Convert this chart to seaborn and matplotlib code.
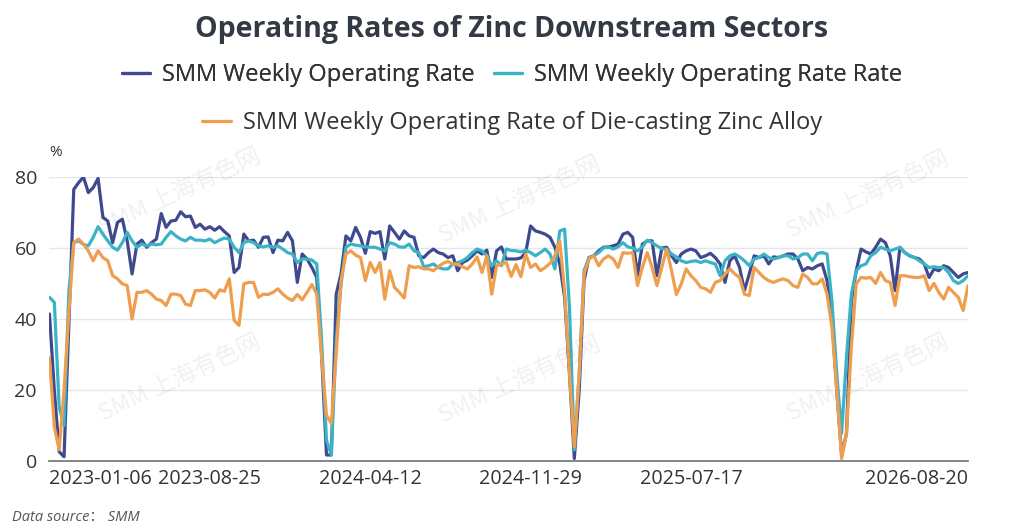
import numpy as np
import pandas as pd
import matplotlib
matplotlib.use("Agg")
import matplotlib.pyplot as plt
import seaborn as sns
from matplotlib.lines import Line2D

# ---------------- data ----------------
series_names = [
    "SMM Weekly Operating Rate",
    "SMM Weekly Operating Rate Rate",
    "SMM Weekly Operating Rate of Die-casting Zinc Alloy",
]

weekly_rate = [
    41.4, 20, 2.6, 1.2, 38.6, 76.5, 78.4, 80, 75.6, 77,
    79.6, 68.6, 67.6, 61.5, 67.2, 68.1, 62, 52.7, 61.1, 62.2,
    60.2, 61.5, 62.5, 69.7, 65.8, 67.6, 67.8, 70.2, 68.8, 69,
    65.8, 66.7, 65.3, 66, 65, 66, 64.6, 63.4, 53.1, 54.5,
    63.9, 62, 62.2, 60.2, 63, 63.1, 58.7, 62.2, 62, 64.4,
    62, 50.3, 58.3, 56.9, 54.5, 51.7, 30, 1.7, 1.7, 47,
    52.7, 63.4, 62, 65.8, 63, 58.5, 64.6, 64.1, 64.6, 56.9,
    66.2, 64.4, 62.5, 64.8, 63.4, 63, 57.8, 57.3, 58.7, 59.7,
    58.7, 58.3, 57.3, 57.8, 53.6, 55.9, 56.6, 57.8, 59.2, 58.3,
    59.4, 51.7, 59.2, 60.3, 56.9, 56.9, 56.9, 57.2, 58.7, 66.2,
    64.8, 64.4, 63.9, 63, 60.2, 55.5, 46.1, 24.6, 0.7, 19.9,
    50.8, 57.3, 57.8, 59.2, 60.2, 60.3, 60.6, 61.1, 63.9, 64.4,
    63, 52.2, 61.1, 62, 62, 52.2, 60, 60.2, 57.8, 55.9,
    58.3, 59.2, 59.7, 59.2, 57.3, 57.8, 58.5, 57.3, 55.5, 50.3,
    56.4, 57.8, 54.5, 48, 52.7, 57.8, 57.3, 57.8, 55.5, 57.5,
    57.3, 57.8, 58.3, 58.3, 56.9, 53.6, 54.5, 54.1, 55, 55.5,
    50.8, 40.5, 19.9, 1.7, 7.8, 45, 53.6, 59.7, 58.9, 58.3,
    60.2, 62.5, 61.5, 57.8, 48, 60.2, 58.7, 57.8, 57.3, 56.9,
    55.5, 51.7, 54.1, 53.6, 55, 54.5, 53.1, 51.7, 52.7, 53.1,
]

weekly_rate_rate = [
    46.1, 44.7, 15.2, 10, 48, 61.5, 62, 61, 60.6, 63,
    66, 63.9, 62, 60.2, 59.4, 61.5, 64.4, 62, 60.2, 61.1,
    60.6, 61.1, 60.9, 61.1, 63, 64.6, 63.4, 62.5, 62, 63,
    62.2, 62.2, 62, 62.5, 61.5, 62.2, 62.8, 62.5, 60.2, 58.7,
    61.5, 62, 61.5, 60.6, 60.3, 60.6, 60.2, 60.6, 59.7, 58.7,
    58.3, 55.9, 56.9, 56.9, 56.6, 55.5, 34, 5.9, 1.7, 34,
    49.9, 60.2, 61.1, 60.8, 60.6, 60.3, 60.2, 60.2, 59.7, 59.2,
    61.5, 61.1, 60.3, 60.2, 61.1, 59.2, 58.7, 54.7, 55, 55.5,
    54.5, 54.1, 54.1, 55.5, 55.9, 56.4, 57.3, 58.7, 59.7, 59.2,
    57.8, 55, 56.4, 55, 59.7, 59.3, 59.2, 58.9, 59.4, 58.7,
    57.8, 58.7, 59.7, 58.3, 54.1, 64.8, 65.3, 43.3, 3.1, 24.6,
    53.6, 57.3, 57.8, 58.7, 60, 60.3, 59.7, 60.3, 61.5, 60.3,
    60, 59.2, 60.3, 62.2, 61.5, 60.6, 59.8, 59.6, 58.3, 57.5,
    56.4, 55.9, 56.2, 56.4, 55.9, 56.4, 55.9, 55.5, 52.2, 56.4,
    57.8, 58.3, 57.5, 56.4, 55, 56.9, 57.3, 58.3, 57.3, 56.9,
    57.3, 57.8, 57.8, 56.9, 57.3, 58.3, 58.3, 56.4, 58.5, 58.7,
    58.3, 45.2, 24.6, 7.8, 29.3, 47, 53.6, 55, 55.5, 57.8,
    58.7, 60.2, 59.7, 59.2, 59.7, 60.2, 58.7, 57.8, 57.3, 56.4,
    55.5, 54.5, 54.7, 54.5, 54.5, 53.1, 50.8, 50, 50.8, 52.2,
]

diecasting_rate = [
    29, 9.6, 3.1, 20, 42, 61.5, 62.5, 61.1, 59.2, 56.4,
    59.2, 57.3, 56.4, 52.2, 51.3, 49.9, 49.4, 40, 47.5, 47.5,
    48, 47, 45.6, 45.2, 43.8, 47, 47, 46.6, 44.2, 43.8,
    48, 48, 48.2, 47.5, 45.9, 48.2, 47.8, 51.3, 39.6, 38.2,
    49.9, 50.3, 50.3, 46.1, 47, 46.9, 47.5, 48.5, 47, 45.9,
    45.2, 46.9, 45.4, 47.5, 49.7, 47, 29.3, 12.9, 10.6, 30.2,
    50.8, 58.3, 59.2, 58, 57.3, 50.8, 55.9, 53.1, 55.9, 45.6,
    53.6, 48.9, 47.5, 45.9, 55, 54.5, 54.7, 54.1, 54.1, 53.6,
    54.7, 55.7, 56.2, 55.5, 55.3, 54.7, 54.1, 55.5, 57.5, 53.1,
    57.8, 47, 55, 55.5, 55.9, 52, 55.3, 51.9, 58.3, 54.5,
    55.5, 53.6, 54.5, 55.7, 57.8, 62, 48, 24.6, 4, 24.6,
    52.7, 56.9, 57.8, 55, 56.9, 57.8, 56.9, 54.5, 58.7, 58.5,
    58.7, 49.4, 54.5, 58.7, 54.5, 49.4, 54.5, 59.7, 53.6, 46.9,
    49.9, 54.1, 52.2, 50.8, 48.9, 48.5, 47.5, 50.3, 50.8, 52.7,
    54.1, 52.7, 51.7, 47, 46.6, 54.5, 53.1, 51.7, 50.8, 50.3,
    50.9, 51.3, 50.8, 49.4, 48.9, 52.7, 51.7, 49.9, 49.9, 51.3,
    47, 37.7, 19.9, 0.7, 7.8, 32.1, 49.9, 51.7, 51.5, 51.7,
    50, 53.1, 50.8, 50.3, 43.8, 52.2, 52.2, 51.9, 51.7, 51.7,
    52.2, 48, 50, 47.5, 45.6, 48.9, 47.5, 46.1, 42.4, 49.4,
]

tick_labels = ["2023-01-06", "2023-08-25", "2024-04-12",
               "2024-11-29", "2025-07-17", "2026-08-20"]
tick_positions = [0, 33, 66, 99, 132, 189]

y_ticks = [0, 20, 40, 60, 80]

# ---------------- styling ----------------
colors = ["#3F4A8E", "#3BB3C6", "#EF9E4E"]
text_color = "#333333"
font_main = ["Open Sans", "DejaVu Sans"]

sns.set_theme(style="white")
plt.rcParams["font.family"] = font_main

n = len(weekly_rate)
df = pd.DataFrame({
    "idx": np.tile(np.arange(n), 3),
    "value": weekly_rate + weekly_rate_rate + diecasting_rate,
    "series": np.repeat(series_names, n),
})

fig = plt.figure(figsize=(10.24, 5.28), dpi=100)
ax = fig.add_axes([0.0483, 0.1269, 0.8970, 0.5379])

sns.lineplot(data=df, x="idx", y="value", hue="series",
             hue_order=series_names, palette=colors,
             linewidth=2.3, legend=False, ax=ax, estimator=None)

ax.set_xlim(0, n - 1)
ax.set_ylim(0, 80)
ax.set_yticks(y_ticks)
ax.set_yticklabels([str(v) for v in y_ticks])
ax.set_xticks(tick_positions)
ax.set_xticklabels(tick_labels)
for i, lbl in enumerate(ax.get_xticklabels()):
    if i == 0:
        lbl.set_ha("left")
    elif i == len(tick_labels) - 1:
        lbl.set_ha("right")
ax.tick_params(axis="x", length=0, pad=6, labelsize=14.2, colors=text_color)
ax.tick_params(axis="y", length=0, pad=9, labelsize=14, colors=text_color)
ax.set_xlabel("")
ax.set_ylabel("")

ax.grid(axis="y", color="#E3E6EE", linewidth=1.0)
ax.grid(axis="x", visible=False)
for s in ["top", "right", "left"]:
    ax.spines[s].set_visible(False)
ax.spines["bottom"].set_color("#6E7079")
ax.spines["bottom"].set_linewidth(1.2)
ax.set_axisbelow(True)

# unit label
fig.text(56 / 1024, 1 - 153 / 528, "%", fontsize=11, color=text_color,
         ha="center", va="center")

# watermarks
wm_font = ["Noto Sans CJK SC", "DejaVu Sans"]
for (wx, wy) in [(180, 192), (520, 200), (868, 195),
                 (180, 378), (520, 380), (868, 378)]:
    fig.text(wx / 1024, 1 - wy / 528, "SMM 上海有色网", fontsize=17,
             color="#000000", alpha=0.06, rotation=25,
             ha="center", va="center", family=wm_font)

# title
fig.text(0.5, 1 - 30 / 528, "Operating Rates of Zinc Downstream Sectors",
         fontsize=20.5, fontweight="bold", color="#333A44",
         ha="center", va="center")

# legend
handles = [Line2D([0], [0], color=c, linewidth=2.3) for c in colors]
leg1 = fig.legend(handles[:2], series_names[:2], loc="center",
                  bbox_to_anchor=(512 / 1024, 1 - 75 / 528), ncol=2,
                  frameon=False, fontsize=17, handlelength=1.2,
                  handletextpad=0.5, columnspacing=0.8,
                  labelcolor=text_color)
leg2 = fig.legend(handles[2:], series_names[2:], loc="center",
                  bbox_to_anchor=(512 / 1024, 1 - 123 / 528), ncol=1,
                  frameon=False, fontsize=17, handlelength=1.2,
                  handletextpad=0.5, labelcolor=text_color)
fig.add_artist(leg1)

# data source
fig.text(12 / 1024, 1 - 517 / 528, "Data source\uff1a SMM", fontsize=10.5,
         style="italic", color="#555555", ha="left", va="center",
         family=["Open Sans", "Noto Sans CJK SC", "DejaVu Sans"])

fig.savefig("out.png", dpi=100)
